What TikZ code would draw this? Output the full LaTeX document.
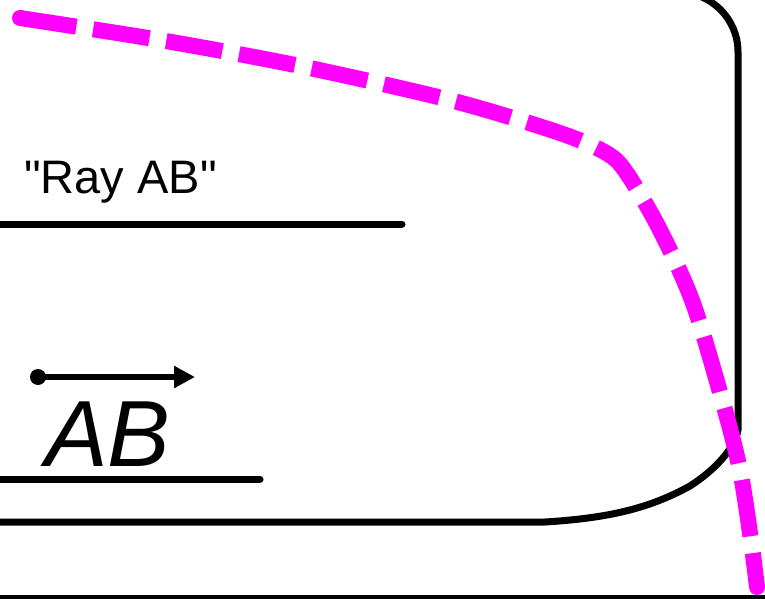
\documentclass[tikz,border=0pt]{standalone}
\usepackage{fontspec}
\setmainfont{Liberation Sans}
\usetikzlibrary{arrows.meta}
\definecolor{traceMagenta}{RGB}{255,0,255}
\begin{document}
\begin{tikzpicture}[x=1pt, y=-1pt, thick line/.style={draw=black,line width=7pt,line cap=round},
 trace/.style={draw=traceMagenta,line width=16pt,dash pattern=on 57pt off 17pt}]
\useasboundingbox (0,0) rectangle (765,599);
\clip (0,0) rectangle (765,599);
%frame
\draw[thick line] (-20,-8) -- (678,-8) arc[start angle=-90,end angle=0,radius=60] -- (738,430)
  .. controls (735,448) and (715,470) .. (690,486) .. controls (650,508) and (610,518) .. (545,522) -- (-20,522);
\draw[draw=black,line width=4pt] (-5,597) -- (770,597);
%ray
\node[font=\fontsize{47}{50}\selectfont,anchor=base west,inner sep=0pt] (rayLabel) at (24,193) {\textquotedbl Ray AB\textquotedbl};
\coordinate (rayEnd) at (402,224);
\draw[thick line] (-20,224) -- (rayEnd);
%vector
\coordinate (vA) at (38,377);
\coordinate (vB) at (195,377);
\draw[line width=5.5pt,-{Triangle[length=21pt,width=21pt]}] (vA) -- (vB);
\fill (vA) circle[radius=8];
\node[font=\fontsize{94}{100}\selectfont\itshape,anchor=base west,inner sep=0pt] (vecLabel) at (45,466) {AB};
\coordinate (vecEnd) at (260,479);
\draw[thick line] (-20,479) -- (vecEnd);
%dashed curve
\coordinate (tA) at (20,18);
\coordinate (tB) at (757,587);
\draw[trace] plot[smooth,tension=0.5] coordinates {(tA) (160,40) (300,66) (450,100) (560,133) (608,154) (628,175)
  (660,230) (693,303) (723,403) (740,470) (751,540) (tB)};
\fill[traceMagenta] (tA) circle[radius=8] (tB) circle[radius=8];
\end{tikzpicture}
\end{document}
